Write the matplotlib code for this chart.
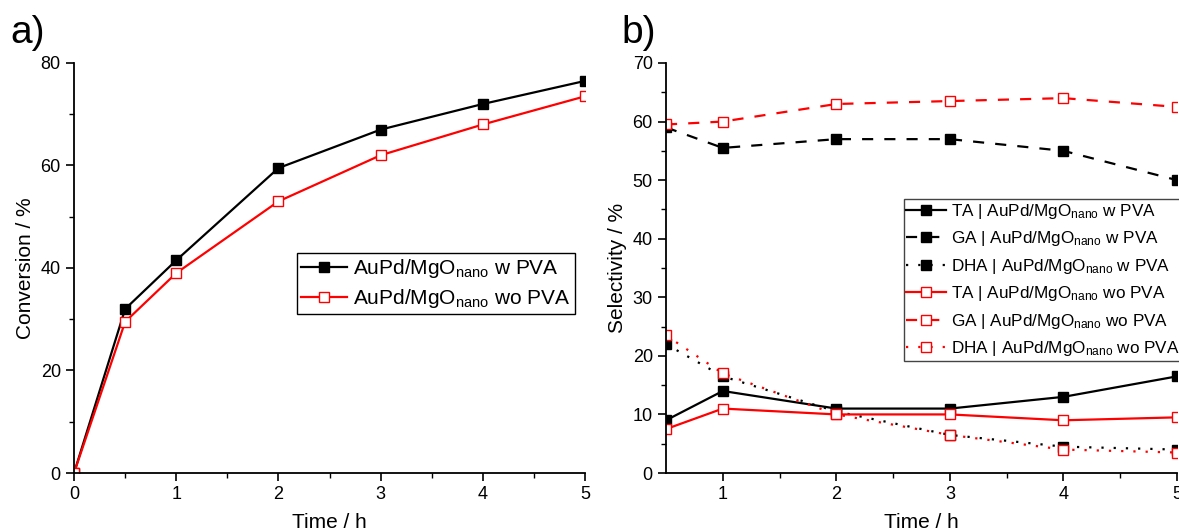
import matplotlib.pyplot as plt

plt.rcParams.update({
    "font.family": ["Liberation Sans", "DejaVu Sans"],
    "mathtext.fontset": "custom",
    "mathtext.rm": "Liberation Sans",
    "mathtext.it": "Liberation Sans",
})

# panel a: conversion
time_a = [0, 0.5, 1, 2, 3, 4, 5]
conv_w = [0, 32, 41.5, 59.5, 67, 72, 76.5]
conv_wo = [0, 29.5, 39, 53, 62, 68, 73.5]

# panel b: selectivity
time_b = [0.5, 1, 2, 3, 4, 5]
ta_w = [9, 14, 11, 11, 13, 16.5]
ga_w = [59, 55.5, 57, 57, 55, 50]
dha_w = [22, 16.5, 10.5, 6.5, 4.5, 4]
ta_wo = [7.5, 11, 10, 10, 9, 9.5]
ga_wo = [59.5, 60, 63, 63.5, 64, 62.5]
dha_wo = [23.5, 17, 10, 6.5, 4, 3.5]

cat = r"AuPd/MgO$_{\mathrm{nano}}$"

fig = plt.figure(figsize=(11.79, 5.32), dpi=100)
ax1 = fig.add_axes([0.0628, 0.1109, 0.4334, 0.7707])
ax2 = fig.add_axes([0.5649, 0.1109, 0.4334, 0.7707])

black = dict(color="black", marker="s", markersize=7, lw=1.6,
             markerfacecolor="black", markeredgecolor="black")
red = dict(color="red", marker="s", markersize=7, lw=1.6,
           markerfacecolor="white", markeredgecolor="red")

ax1.plot(time_a, conv_w, label=cat + " w PVA", **black)
ax1.plot(time_a, conv_wo, label=cat + " wo PVA", **red)
ax1.set_xlim(0, 5)
ax1.set_ylim(0, 80)
ax1.set_xticks([0, 1, 2, 3, 4, 5])
ax1.set_xticks([0.5, 1.5, 2.5, 3.5, 4.5], minor=True)
ax1.set_yticks([0, 20, 40, 60, 80])
ax1.set_yticks([10, 30, 50, 70], minor=True)
ax1.set_xlabel("Time / h", fontsize=15, labelpad=7)
ax1.set_ylabel("Conversion / %", fontsize=15)
ax1.legend(loc="upper right", bbox_to_anchor=(0.98, 0.537), fontsize=15,
           fancybox=False, edgecolor="black", framealpha=1, handlelength=2.2,
           borderpad=0.2, labelspacing=0.35, handletextpad=0.3,
           borderaxespad=0)
fig.text(0.009, 0.919, "a)", fontsize=28)

dash = (0, (5, 5))
dot = (0, (1, 4.5))
ax2.plot(time_b, ta_w, ls="-", label="TA | " + cat + " w PVA", **black)
ax2.plot(time_b, ga_w, ls=dash, label="GA | " + cat + " w PVA", **black)
ax2.plot(time_b, dha_w, ls=dot, label="DHA | " + cat + " w PVA", **black)
ax2.plot(time_b, ta_wo, ls="-", label="TA | " + cat + " wo PVA", **red)
ax2.plot(time_b, ga_wo, ls=dash, label="GA | " + cat + " wo PVA", **red)
ax2.plot(time_b, dha_wo, ls=dot, label="DHA | " + cat + " wo PVA", **red)
ax2.set_xlim(0.5, 5)
ax2.set_ylim(0, 70)
ax2.set_xticks([1, 2, 3, 4, 5])
ax2.set_xticks([1.5, 2.5, 3.5, 4.5], minor=True)
ax2.set_yticks(range(0, 71, 10))
ax2.set_yticks(range(5, 70, 10), minor=True)
ax2.set_xlabel("Time / h", fontsize=15, labelpad=7)
ax2.set_ylabel("Selectivity / %", fontsize=15)
ax2.legend(loc="upper right", bbox_to_anchor=(1.01, 0.668), fontsize=12.3,
           fancybox=False, edgecolor="#444444", framealpha=1, handlelength=2.3,
           borderpad=0.15, labelspacing=0.5, handletextpad=0.3,
           borderaxespad=0)
fig.text(0.527, 0.919, "b)", fontsize=28)

for ax in (ax1, ax2):
    ax.spines["top"].set_visible(False)
    ax.spines["right"].set_visible(False)
    ax.spines["left"].set_linewidth(1.3)
    ax.spines["bottom"].set_linewidth(1.3)
    ax.tick_params(which="major", direction="out", length=6, width=1.2, labelsize=13)
    ax.tick_params(which="minor", direction="out", length=3.5, width=1.0)

fig.savefig("out.png", dpi=100)
